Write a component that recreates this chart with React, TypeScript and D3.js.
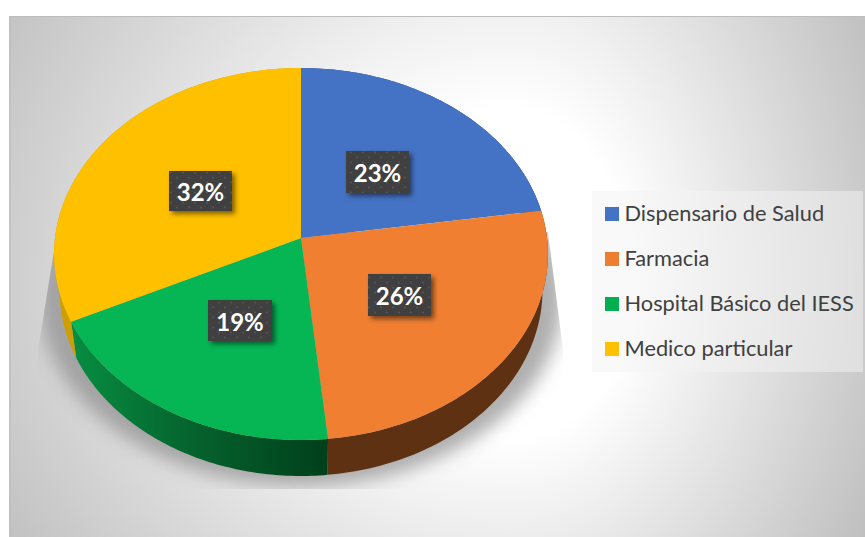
import React from "react";
import * as d3 from "d3";

const categories = ["Dispensario de Salud", "Farmacia", "Hospital Básico del IESS", "Medico particular"];
const shares = [22.6, 25.8, 19.4, 32.2];
const labels = ["23%", "26%", "19%", "32%"];
const faceColors = ["#4472C4", "#F07F32", "#06B655", "#FFC000"];
const legendColors = ["#4472C4", "#ED7D31", "#00B050", "#FFC000"];
const sideFills = ["#2c4a80", "#5F3113", "url(#greenSide)", "#CF9E00"];
const labelBoxes = [
  [346, 151, 63, 42],
  [368, 274, 63, 42],
  [208, 300, 64, 41],
  [169, 171, 63, 40],
];

const W = 865;
const H = 537;
const CX = 301;
const CY = 238;
const RX = 246;
const RY = 184.6;
const K = 0.086;
const DEPTH = 36;
const BOTTOM_SCALE = 0.978;

// Perspective view of the pie's disc: angle clockwise from twelve o'clock.
function project(a: number, lower = false): [number, number] {
  const u = Math.sin(a);
  const v = -Math.cos(a);
  const w = 1 - K * v;
  const x = (RX * u) / w;
  const y = (RY * v) / w;
  return lower ? [CX + x * BOTTOM_SCALE, CY + y + DEPTH] : [CX + x, CY + y];
}

const line = d3.line();
const arcs = d3.pie<number>().sort(null)(shares);

function sample(a0: number, a1: number, lower = false) {
  const n = 80;
  return d3.range(n + 1).map((i) => project(a0 + ((a1 - a0) * i) / n, lower));
}
function facePath(a0: number, a1: number) {
  return line([[CX, CY], ...sample(a0, a1)])! + "Z";
}
function sidePath(a0: number, a1: number) {
  return line([...sample(a0, a1), ...sample(a1, a0, true)])! + "Z";
}

type Q = { id: string; x: number; y: number; w: number; h: number; rx: number; ry: number };
const GX = 510;
const GY = 290;
const quadrants: Q[] = [
  { id: "qTL", x: 9, y: 16, w: GX - 9, h: GY - 16, rx: 501 * 1.2, ry: 274 * 2.2 },
  { id: "qTR", x: GX, y: 16, w: W - GX, h: GY - 16, rx: 355 * 1.15, ry: 274 * 2.2 },
  { id: "qBL", x: 9, y: GY, w: GX - 9, h: H - GY, rx: 501 * 1.2, ry: 247 * 2 },
  { id: "qBR", x: GX, y: GY, w: W - GX, h: H - GY, rx: 355 * 1.15, ry: 247 * 2 },
];

export default function App() {
  return (
    <svg width={W} height={H} style={{ position: "absolute", left: 0, top: 0, background: "#fff" }}>
      <defs>
        {quadrants.map((q) => (
          <radialGradient
            key={q.id}
            id={q.id}
            gradientUnits="userSpaceOnUse"
            cx={0}
            cy={0}
            r={1}
            gradientTransform={`translate(${GX} ${GY}) scale(${q.rx} ${q.ry})`}
          >
            <stop offset="0.3" stopColor="#ffffff" />
            <stop offset="1" stopColor="#bfbfbf" />
          </radialGradient>
        ))}
        <linearGradient id="greenSide" gradientUnits="userSpaceOnUse" x1={75} x2={328} y1={0} y2={0}>
          <stop offset="0" stopColor="#078C40" />
          <stop offset="0.5" stopColor="#05602C" />
          <stop offset="1" stopColor="#003F1B" />
        </linearGradient>
        <filter id="pieShadow" x="-20%" y="-20%" width="140%" height="140%">
          <feGaussianBlur stdDeviation="9" />
        </filter>
        <filter id="boxShadow" x="-30%" y="-30%" width="160%" height="160%">
          <feDropShadow dx="3" dy="3" stdDeviation="2.5" floodColor="#000" floodOpacity="0.5" />
        </filter>
        <clipPath id="shadowClip">
          <path d="M57 232 L38 350 L38 489 L563 489 L563 350 L548 232 Z" />
        </clipPath>
        <pattern id="dots" width="12" height="10" patternUnits="userSpaceOnUse">
          <rect width="12" height="10" fill="#404040" />
          <circle cx="3" cy="2.5" r="0.9" fill="#585858" />
          <circle cx="9" cy="7.5" r="0.9" fill="#585858" />
        </pattern>
      </defs>

      {quadrants.map((q) => (
        <rect key={q.id} x={q.x} y={q.y} width={q.w} height={q.h} fill={`url(#${q.id})`} />
      ))}
      <rect x={9} y={16} width={856} height={1} fill="#bdbdbd" />
      <rect x={9} y={16} width={2} height={521} fill="#bdbdbd" opacity={0.6} />

      <g clipPath="url(#shadowClip)">
        <ellipse cx={301} cy={296} rx={262} ry={190} fill="#8c8c8c" opacity={0.7} filter="url(#pieShadow)" />
      </g>

      {arcs.map((d, i) => (
        <path key={i} d={sidePath(d.startAngle, d.endAngle)} fill={sideFills[i]} />
      ))}
      {arcs.map((d, i) => (
        <path key={i} d={facePath(d.startAngle, d.endAngle)} fill={faceColors[i]} />
      ))}

      {labels.map((t, i) => {
        const [x, y, w, h] = labelBoxes[i];
        return (
          <g key={t}>
            <rect x={x} y={y} width={w} height={h} fill="url(#dots)" filter="url(#boxShadow)" />
            <text
              x={x + w / 2}
              y={y + h / 2 + 10}
              textAnchor="middle"
              fontFamily="Lato"
              fontWeight={700}
              fontSize={24}
              fill="#fff"
            >
              {t}
            </text>
          </g>
        );
      })}

      <rect x={592} y={191} width={271} height={181} fill="#f3f3f3" opacity={0.51} />
      {categories.map((c, i) => (
        <g key={c}>
          <rect x={605} y={207 + i * 45} width={14} height={14} fill={legendColors[i]} />
          <text x={624.5} y={221 + i * 45} fontFamily="Lato" fontSize={21.8} fill="#404040">
            {c}
          </text>
        </g>
      ))}
    </svg>
  );
}
